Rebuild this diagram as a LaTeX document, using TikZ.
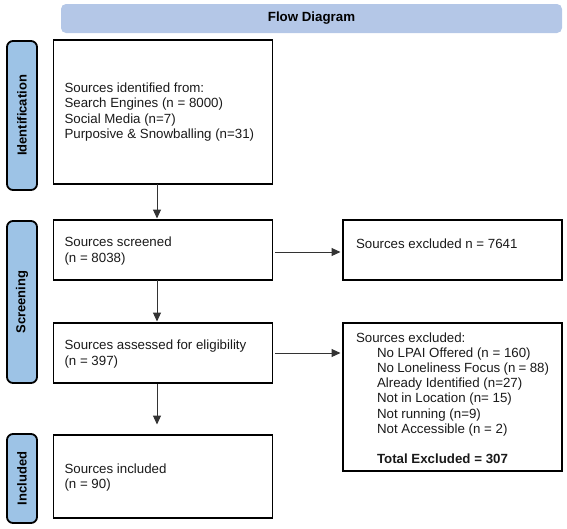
\documentclass[tikz,border=0pt]{standalone}
\usepackage{fontspec}
\setmainfont{Liberation Sans}
\usetikzlibrary{arrows.meta}
\definecolor{titlefill}{HTML}{B4C7E7}
\definecolor{tabfill}{HTML}{9DC3E6}
\definecolor{arrowcol}{HTML}{333333}
\definecolor{textcol}{HTML}{1A1A1A}
\tikzset{
  flowbox/.style={draw=black, line width=1.8pt, inner sep=0pt, outer sep=0pt,
    minimum width=219pt, text=textcol, font=\fontsize{13.3}{15.2}\selectfont},
  tabbox/.style={draw=black, line width=1.8pt, fill=tabfill, rounded corners=6pt,
    rotate=90, inner sep=0pt, outer sep=0pt, minimum height=30pt,
    font=\fontsize{13}{15}\selectfont\bfseries},
  titlebar/.style={fill=titlefill, rounded corners=5pt, inner sep=0pt, outer sep=0pt,
    minimum width=501pt, minimum height=29pt, font=\fontsize{13.3}{15}\selectfont\bfseries},
  arr/.style={draw=arrowcol, line width=1pt, -{Triangle[length=9pt,width=8pt]}},
}
\begin{document}
\begin{tikzpicture}[x=1pt,y=-1pt]
\useasboundingbox (0,0) rectangle (567,528);

\node[titlebar] (title) at (311.5,18.5) {Flow Diagram};

\node[tabbox, minimum width=149pt] (tabI) at (22,115.5) {Identification};
\node[tabbox, minimum width=162pt] (tabS) at (22,302) {Screening};
\node[tabbox, minimum width=89pt] (tabN) at (22,478.5) {Included};

\node[flowbox, minimum height=144pt] (ident) at (163,112)
  {\begin{minipage}[c][144pt][c]{197pt}\raggedright
   Sources identified from:\\
   Search Engines (n = 8000)\\
   Social Media (n=7)\\
   Purposive \& Snowballing (n=31)
   \end{minipage}};

\node[flowbox, minimum height=60pt] (screen) at (163,250)
  {\begin{minipage}[c][60pt][c]{197pt}\raggedright
   \vspace*{2pt}Sources screened\\
   (n = 8038)
   \end{minipage}};

\node[flowbox, minimum height=60pt] (assess) at (163,353)
  {\begin{minipage}[c][60pt][c]{197pt}\raggedright
   \vspace*{2pt}Sources assessed for eligibility\\
   (n = 397)
   \end{minipage}};

\node[flowbox, minimum height=83pt] (incl) at (163,476.5)
  {\begin{minipage}[c][83pt][c]{197pt}\raggedright
   \vspace*{2pt}Sources included\\
   (n = 90)
   \end{minipage}};

\node[flowbox, minimum height=60pt] (excl1) at (452.5,250)
  {\begin{minipage}[c][60pt][t]{193pt}\raggedright
   \vspace*{18.5pt}Sources excluded n = 7641
   \end{minipage}};

\node[flowbox, minimum height=148pt] (excl2) at (452.5,397)
  {\begin{minipage}[c][148pt][t]{193pt}\raggedright
   \vspace*{9.5pt}Sources excluded:\\
   \hspace*{21pt}No LPAI Offered (n = 160)\\
   \hspace*{21pt}No Loneliness Focus (n = 88)\\
   \hspace*{21pt}Already Identified (n=27)\\
   \hspace*{21pt}Not in Location (n= 15)\\
   \hspace*{21pt}Not running (n=9)\\
   \hspace*{21pt}Not Accessible (n = 2)\\[15.2pt]
   \hspace*{21pt}\textbf{Total Excluded = 307}
   \end{minipage}};

\coordinate (vline) at (157,0);
\draw[arr, shorten >=1.5pt] (ident.south -| vline) -- (screen.north -| vline);
\draw[arr, shorten >=1.5pt] (screen.south -| vline) -- (assess.north -| vline);
\draw[arr, shorten <=1pt, shorten >=10.5pt] (assess.south -| vline) -- (incl.north -| vline);
\draw[arr, shorten <=2.5pt, shorten >=2.5pt] ([yshift=-2pt]screen.east) -- ([yshift=-2pt]screen.east -| excl1.west);
\draw[arr, shorten <=2.5pt, shorten >=2.5pt] (assess.east) -- (assess.east -| excl2.west);
\end{tikzpicture}
\end{document}
